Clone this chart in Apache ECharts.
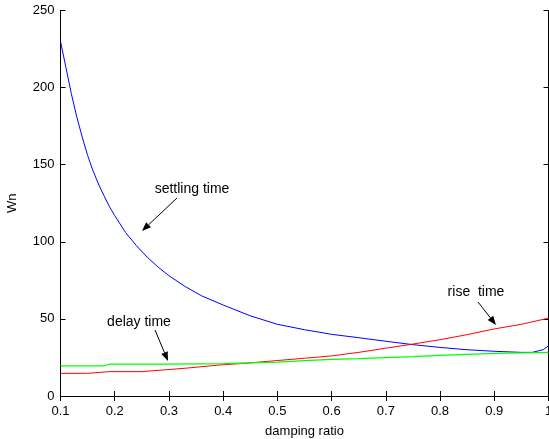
<!DOCTYPE html>
<html>
<head>
<meta charset="utf-8">
<script src="https://cdn.jsdelivr.net/npm/echarts@6/dist/echarts.min.js"></script>
<style>html,body{margin:0;padding:0;background:#fff}#c{width:549px;height:439px}</style>
</head>
<body>
<div id="c"></div>
<script>
// ---- data ----
var settlingX = [0.10,0.11,0.12,0.13,0.14,0.15,0.16,0.17,0.18,0.19,0.20,0.22,0.24,0.26,0.28,0.30,0.33,0.36,0.40,0.45,0.50,0.55,0.60,0.65,0.70,0.75,0.80,0.85,0.90,0.95,0.97,0.99,1.00];
var settlingY = [230,213,196,181,168,156,146,137.5,130,123,117,106,97.5,90,83.6,78,71,65,59,52,46.5,43,40,37.8,35.5,33.3,31.5,30,29,28.3,28.3,30,32.5];
var riseX = [0.10,0.15,0.19,0.25,0.29,0.33,0.36,0.39,0.45,0.50,0.55,0.60,0.65,0.70,0.75,0.80,0.85,0.90,0.95,1.00];
var riseY = [14.7,14.7,15.8,15.8,16.9,18,19,20,21.5,23,24.5,26,28.3,31,33.7,36.5,39.8,43.5,46.5,50.5];
var delayX = [0.10,0.18,0.19,0.30,0.40,0.45,0.50,0.55,0.60,0.65,0.70,0.75,0.80,0.85,0.90,0.95,1.00];
var delayY = [19.6,19.6,20.7,20.7,21,21.5,22,23,23.8,24.3,24.9,25.5,26.3,27,27.7,28,28.3];
var xTicks = [0.1,0.2,0.3,0.4,0.5,0.6,0.7,0.8,0.9,1];
var yTicks = [0,50,100,150,200,250];
var xName = 'damping ratio';
var yName = 'Wn';
var notes = [
  {text:'settling time', tx:192, ty:189, ax:[177,198], bx:[142,231]},
  {text:'rise  time', tx:476, ty:292, ax:[478,302], bx:[496,325]},
  {text:'delay time', tx:139, ty:322, ax:[155,330], bx:[168,361]}
];

function pairs(xs, ys){ return xs.map(function(x,i){ return [x, ys[i]]; }); }

var font = 'Liberation Sans, Arial, sans-serif';
var axisCommon = {
  axisLine:{show:true, lineStyle:{color:'#000', width:1}},
  axisTick:{show:true, inside:true, length:5, lineStyle:{color:'#000'}},
  splitLine:{show:false}
};
function fmtX(v){ return String(+(+v).toFixed(1)); }

var chart = echarts.init(document.getElementById('c'), null, {renderer:'canvas'});

var graphics = [];
notes.forEach(function(n){
  graphics.push({type:'text', x:n.tx, y:n.ty, style:{text:n.text, fill:'#000', font:'14px '+font, align:'center', verticalAlign:'middle'}});
  var dx = n.bx[0]-n.ax[0], dy = n.bx[1]-n.ax[1];
  var L = Math.sqrt(dx*dx+dy*dy), ux = dx/L, uy = dy/L;
  var hl = 9, hw = 3.5;
  var bx = n.bx[0]-ux*hl, by = n.bx[1]-uy*hl;
  graphics.push({type:'line', shape:{x1:n.ax[0], y1:n.ax[1], x2:bx, y2:by}, style:{stroke:'#000', lineWidth:1}});
  graphics.push({type:'polygon', shape:{points:[[n.bx[0],n.bx[1]],[bx-uy*hw,by+ux*hw],[bx+uy*hw,by-ux*hw]]}, style:{fill:'#000'}});
});

chart.setOption({
  animation:false,
  backgroundColor:'#fff',
  grid:{left:60.5, right:0.5, top:10.5, bottom:43, outerBoundsMode:'none', containLabel:false},
  xAxis:[
    Object.assign({type:'value', min:0.1, max:1, interval:0.1, position:'bottom',
      name:xName, nameLocation:'middle', nameGap:29,
      nameTextStyle:{color:'#000', fontSize:13, fontFamily:font},
      axisLabel:{color:'#000', fontSize:13, fontFamily:font, margin:9, formatter:fmtX}}, axisCommon),
    Object.assign({type:'value', min:0.1, max:1, interval:0.1, position:'top',
      axisLabel:{show:false}}, axisCommon)
  ],
  yAxis:[
    Object.assign({type:'value', min:0, max:250, interval:50, position:'left',
      name:yName, nameLocation:'middle', nameGap:42, nameRotate:90,
      nameTextStyle:{color:'#000', fontSize:13, fontFamily:font},
      axisLabel:{color:'#000', fontSize:13, fontFamily:font, margin:6}}, axisCommon),
    Object.assign({type:'value', min:0, max:250, interval:50, position:'right',
      axisLabel:{show:false}}, axisCommon)
  ],
  series:[
    {type:'line', data:pairs(settlingX, settlingY), showSymbol:false, smooth:false, lineStyle:{color:'#0000ff', width:1}, itemStyle:{color:'#0000ff'}},
    {type:'line', data:pairs(riseX, riseY), showSymbol:false, lineStyle:{color:'#ff0000', width:1}, itemStyle:{color:'#ff0000'}},
    {type:'line', data:pairs(delayX, delayY), showSymbol:false, lineStyle:{color:'#00ff00', width:1.2}, itemStyle:{color:'#00ff00'}}
  ],
  graphic:graphics
});
</script>
</body>
</html>
